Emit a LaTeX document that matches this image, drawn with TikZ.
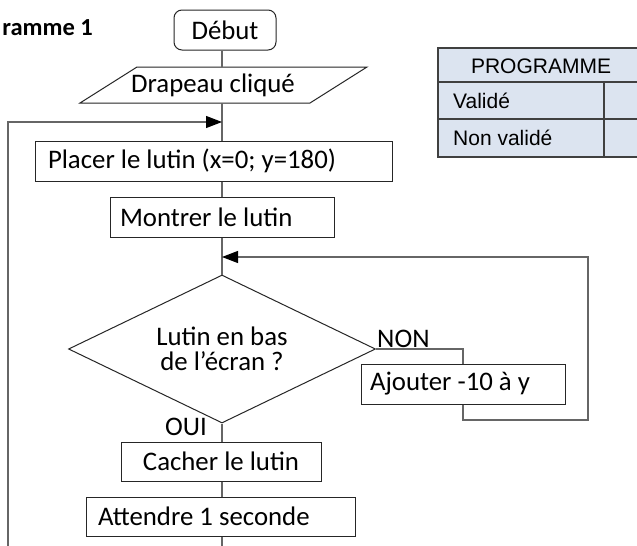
\documentclass[tikz,border=0pt]{standalone}
\usepackage{fontspec}
\setmainfont{Carlito}
\newfontfamily\arialf{Liberation Sans}
\usetikzlibrary{arrows.meta,shapes.geometric}
\definecolor{tabfill}{RGB}{220,228,240}
\begin{document}
\begin{tikzpicture}[x=1pt,y=-1pt,
  every node/.style={font=\fontsize{26.8}{24.5}\selectfont},
  box/.style={draw=black!85,line width=1pt,minimum height=40pt,inner ysep=0pt},
  lbox/.style={box,align=left,execute at begin node={\spaceskip=0pt\xspaceskip=0pt\relax}},
  conn/.style={draw=black!60,line width=1.1pt},
  arr/.style={conn,-{Triangle[length=16pt,width=12pt,color=black,fill=black]}},
  tabline/.style={draw=black!75,line width=1.1pt},
  tabtext/.style={font=\arialf\fontsize{21}{24}\selectfont,inner sep=0pt}]
\useasboundingbox[fill=white] (0,0) rectangle (637,546);

% title
\node[anchor=base east,inner sep=0pt,font=\bfseries\fontsize{24.5}{26}\selectfont] (title) at (93,35) {ramme 1};

% table
\fill[tabfill] (438,48) rectangle (640,157);
\draw[tabline] (640,48) -- (438,48) -- (438,157) -- (640,157);
\draw[tabline] (438,82) -- (640,82);
\draw[tabline] (438,119) -- (640,119);
\draw[tabline] (604,82) -- (604,157);
\node[tabtext] (thead) at (541,66) {PROGRAMME};
\node[tabtext,anchor=west] (tval) at (453,101) {Validé};
\node[tabtext,anchor=west] (tnon) at (453,138) {Non validé};

% axis coordinates
\coordinate (drapT) at (222,67);
\coordinate (drapB) at (222,103);
\coordinate (lb) at (8,546);
\coordinate (lt) at (8,122);
\coordinate (a1) at (222,122);
\coordinate (rb) at (588,420);
\coordinate (a2) at (222,257);
\coordinate (bot) at (222,546);

% nodes
\node[box,rounded corners=8pt,minimum width=102pt,inner xsep=0pt] (debut) at (225,30) {Début};
\draw[draw=black!85,line width=1pt] (80,103) -- (137,67) -- (367,67) -- (310,103) -- cycle;
\node[inner sep=0pt] (drapeau) at (213,85) {Drapeau cliqué};
\node[lbox,inner xsep=13pt,text width=331pt] (placer) at (213.5,161) {Placer le lutin (x=0; y=180)};
\node[lbox,inner xsep=10pt,text width=204pt] (montrer) at (222,217) {Montrer le lutin};
\node[diamond,draw=black!85,line width=1pt,minimum width=307pt,minimum height=148pt,aspect=2.07,inner sep=0pt,align=center] (cond) at (222,349) {Lutin en bas\\de l’écran ?};
\node[anchor=south west,inner sep=1pt] (non) at (cond.east) {NON};
\node[lbox,inner xsep=9pt,text width=186pt] (ajouter) at (463,384) {Ajouter -10 à y};
\node[anchor=base east,inner sep=0pt] (oui) at (207,435) {OUI};
\node[box,minimum width=200pt,minimum height=39pt,inner xsep=0pt] (cacher) at (221,461.5) {Cacher le lutin};
\node[lbox,minimum height=39pt,inner xsep=12pt,text width=245pt] (attendre) at (220.5,516.5) {Attendre 1 seconde};

% connectors
\draw[conn] (debut.south -| drapT) -- (drapT);
\draw[conn] (drapB) -- (placer.north -| drapB);
\draw[arr] (lb) -- (lt) -- (a1);
\draw[conn] (placer.south -| drapB) -- (montrer.north -| drapB);
\draw[conn] (montrer.south -| drapB) -- (cond.north);
\draw[conn] (cond.east) -| (ajouter.north);
\draw[arr] (ajouter.south) |- (rb) -- (rb |- a2) -- (a2);
\draw[conn] (cond.south) -- (cacher.north -| cond.south);
\draw[conn] (cacher.south -| cond.south) -- (attendre.north -| cond.south);
\draw[conn] (attendre.south -| cond.south) -- (bot);
\end{tikzpicture}
\end{document}
